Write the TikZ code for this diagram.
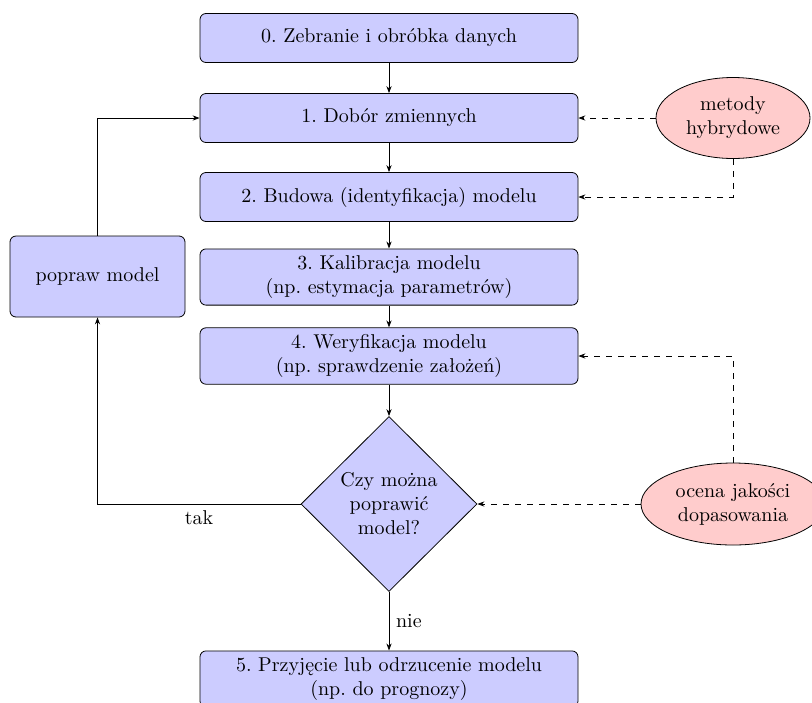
\documentclass[tikz,border=0pt]{standalone}
\usepackage{fontspec}
\usepackage{tikz}
\usetikzlibrary{shapes.geometric, arrows.meta}
\frenchspacing

\begin{document}
\begin{tikzpicture}[x=0.5pt, y=-0.5pt,
    >={Stealth[length=3.5pt,width=2.6pt]},
    krok/.style={draw, rounded corners=3pt, fill=blue!20, align=center,
      minimum width=189pt, minimum height=24.5pt, text width=180pt},
    pytanie/.style={draw, diamond, fill=blue!20, align=center, aspect=1,
      inner sep=0pt, minimum width=88pt, minimum height=87.5pt},
    metoda/.style={draw, ellipse, fill=red!20, align=center, inner sep=1pt},
    pomocnicza/.style={->, dashed}]
	\useasboundingbox (0,0) rectangle (812,702);

            % glowny ciag krokow
            \node[krok] (zebranie) at (389,38) {0. Zebranie i obróbka danych};
            \node[krok] (dobor) at (389,118) {1. Dobór zmiennych};
            \node[krok] (budowa) at (389,197) {2. Budowa (identyfikacja) modelu};
            \node[krok] (kalibracja) at (389,277) {3. Kalibracja modelu\\(np. estymacja parametrów)};
            \node[krok] (weryfikacja) at (389,356) {4. Weryfikacja modelu\\(np. sprawdzenie założeń)};
            \node[pytanie] (decyzja) at (389,504) {Czy można\\poprawić\\model?};
            \node[krok] (przyjecie) at (389,679) {5. Przyjęcie lub odrzucenie modelu\\(np. do prognozy)};

            \node[krok, minimum width=87.5pt, text width=80pt, minimum height=40.5pt] (popraw) at (97.5,276.5) {popraw model};

            \node[metoda, minimum width=77pt, minimum height=40.5pt] (hybrydowe) at (733,118) {metody\\hybrydowe};
            \node[metoda, minimum width=92pt, minimum height=41pt] (ocena) at (733,504) {ocena jakości\\dopasowania};

            \foreach \a/\b in {zebranie/dobor, dobor/budowa, budowa/kalibracja,
                               kalibracja/weryfikacja, weryfikacja/decyzja}{
              \draw[->] (\a) -- (\b);
            }
            \draw[->] (decyzja) -- node[right] {nie} (przyjecie);

            % petla poprawiania
            \draw[->] (decyzja.west) -| node[pos=0.25, below] {tak} (popraw.south);
            \draw[->] (popraw.north) |- (dobor.west);

            % zrodla pomocnicze
            \draw[pomocnicza] (hybrydowe) -- (dobor);
            \draw[pomocnicza] (hybrydowe.south) |- (budowa.east);
            \draw[pomocnicza] (ocena) -- (decyzja);
            \draw[pomocnicza] (ocena.north) |- (weryfikacja.east);
        \end{tikzpicture}
\end{document}
